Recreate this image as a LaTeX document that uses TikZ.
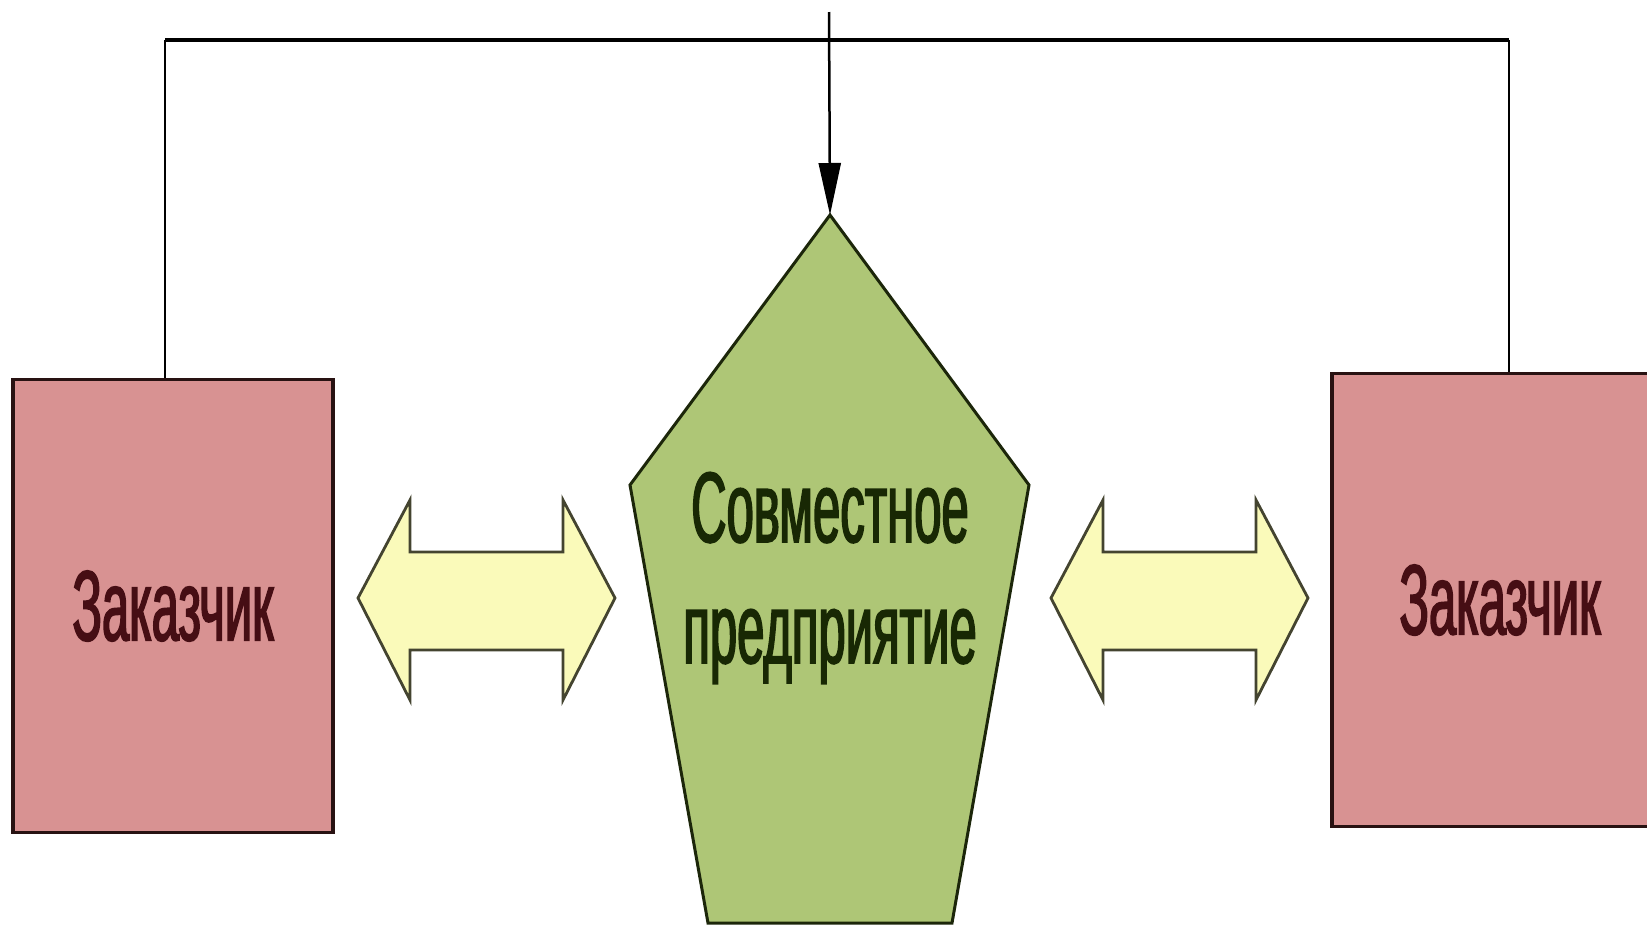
\documentclass[tikz,border=0pt]{standalone}
\usepackage{fontspec}
\setmainfont{Liberation Sans}
\newfontfamily\narrowsans[FakeStretch=0.49, FakeBold=1.6]{Liberation Sans}
\usepackage{xcolor}
\usetikzlibrary{arrows.meta}

\definecolor{boxpink}{RGB}{216,146,146}
\definecolor{boxline}{RGB}{40,18,18}
\definecolor{boxtext}{RGB}{70,14,20}
\definecolor{jvgreen}{RGB}{174,198,118}
\definecolor{jvline}{RGB}{28,38,10}
\definecolor{jvtext}{RGB}{24,40,4}
\definecolor{flowfill}{RGB}{250,250,186}
\definecolor{flowline}{RGB}{68,68,48}

\begin{document}
\begin{tikzpicture}[x=1pt, y=-1pt,
  clientbox/.style={draw=boxline, line width=3.5pt, fill=boxpink, text=boxtext,
    minimum height=453pt, inner sep=0pt, font=\narrowsans\fontsize{100}{121}\selectfont},
  jvshape/.style={draw=jvline, line width=3pt, fill=jvgreen, line join=miter},
  jvlabel/.style={text=jvtext, align=center, inner sep=0pt,
    font=\narrowsans\fontsize{100}{121}\selectfont},
  flowarrow/.style={draw=flowline, line width=2.8pt, fill=flowfill, line join=miter},
  wire/.style={draw=black, line width=2.5pt},
  bus/.style={draw=black, line width=4pt},
  feedline/.style={draw=black, line width=2.5pt, -{Triangle[length=52pt, width=22pt]}}]
  \useasboundingbox (0,0) rectangle (1647,930);

  \node[clientbox, minimum width=320pt] (clientL) at (173,606) {Заказчик};
  \node[clientbox, minimum width=336pt] (clientR) at (1500,600) {Заказчик};

  \coordinate (jvtop) at (830,215);
  \draw[jvshape] (jvtop) -- (1029,485) -- (952,923) -- (708,923) -- (630,485) -- cycle;
  \node[jvlabel] (jv) at (830,578) {Совместное\\предприятие};

  \foreach \ax/\nm in {358/flowL, 1051/flowR} {
    \draw[flowarrow] (\ax,598) coordinate (\nm) -- ++(52,-98) -- ++(0,52) -- ++(153,0)
      -- ++(0,-52) -- ++(52,98) -- ++(-52,102) -- ++(0,-50) -- ++(-153,0)
      -- ++(0,50) -- cycle;
  }

  \coordinate (busL) at (165,40);
  \coordinate (busR) at (1509,40);
  \coordinate (feed) at (829,12);
  \draw[wire] (clientL.north -| busL) -- (busL);
  \draw[wire] (clientR.north -| busR) -- (busR);
  \draw[bus] (busL) -- (busR);
  \draw[feedline] (feed) -- (jvtop);
\end{tikzpicture}
\end{document}
